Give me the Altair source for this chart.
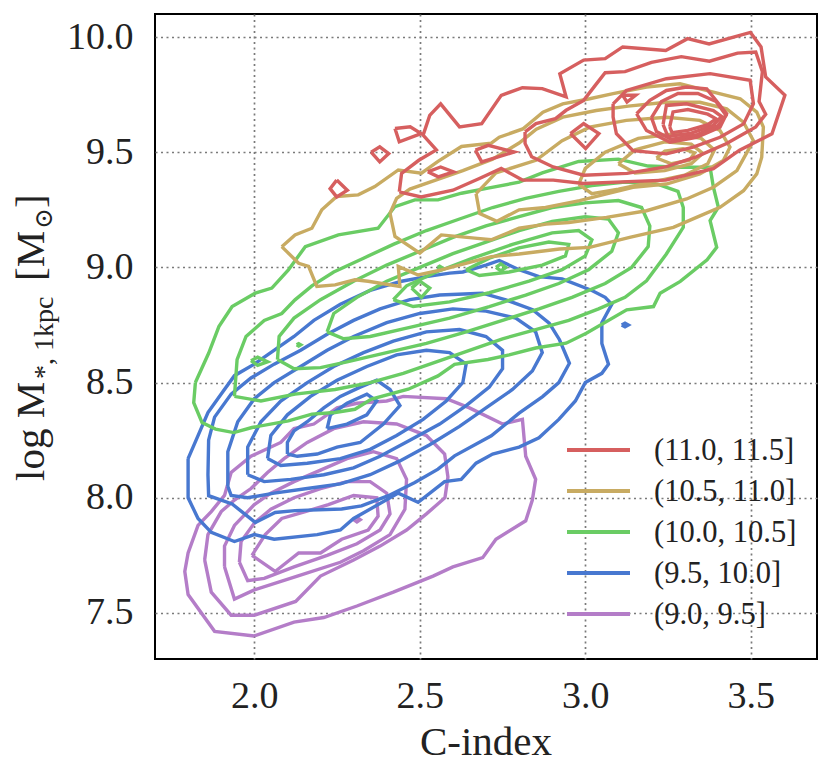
import altair as alt
import pandas as pd

# ---------------- data ----------------
LABELS = ["(11.0, 11.5]", "(10.5, 11.0]", "(10.0, 10.5]", "(9.5, 10.0]", "(9.0, 9.5]"]
COLORS = ["#d65f5f", "#c8ab62", "#6acc64", "#4878d0", "#b47dc8"]
X_TICKS = [2.0, 2.5, 3.0, 3.5]
Y_TICKS = [7.5, 8.0, 8.5, 9.0, 9.5, 10.0]

RED = [
    [(2.438,9.328),(2.445,9.408),(2.497,9.465),(2.55,9.51),(2.51,9.574),(2.53,9.66),(2.563,9.71),(2.62,9.61),
     (2.687,9.624),(2.746,9.747),(2.81,9.78),(2.87,9.776),(2.942,9.74),(2.923,9.84),(2.995,9.90),(3.06,9.906),
     (3.113,9.957),(3.243,9.942),(3.309,9.993),(3.374,9.97),(3.499,10.02),(3.531,9.957),(3.545,9.827),(3.603,9.747),
     (3.564,9.58),(3.466,9.509),(3.387,9.429),(3.243,9.379),(2.995,9.364),(2.903,9.379),(2.81,9.379),(2.746,9.43),
     (2.68,9.386),(2.60,9.335),(2.504,9.306)],
    [(2.818,9.588),(2.851,9.624),(2.91,9.646),(2.942,9.682),(2.995,9.725),(3.03,9.79),(3.06,9.845),(3.12,9.85),
     (3.20,9.89),(3.29,9.915),(3.375,9.895),(3.46,9.93),(3.515,9.935),(3.535,9.85),(3.525,9.72),(3.545,9.665),
     (3.515,9.61),(3.427,9.538),(3.335,9.48),(3.243,9.436),(3.126,9.408),(2.995,9.40),(2.903,9.436),(2.838,9.48),
     (2.818,9.538)],
    [(3.084,9.71),(3.124,9.768),(3.245,9.819),(3.377,9.841),(3.498,9.812),(3.508,9.71),(3.478,9.623),(3.407,9.565),
     (3.326,9.522),(3.245,9.493),(3.144,9.507),(3.094,9.58),(3.084,9.652)],
    [(3.155,9.667),(3.195,9.725),(3.245,9.768),(3.306,9.783),(3.367,9.775),(3.427,9.667),(3.407,9.609),(3.336,9.565),
     (3.256,9.543),(3.185,9.594)],
    [(3.20,9.65),(3.23,9.72),(3.28,9.755),(3.34,9.755),(3.395,9.72),(3.425,9.66),(3.40,9.615),(3.335,9.575),
     (3.26,9.555),(3.215,9.59)],
    [(3.235,9.62),(3.245,9.703),(3.306,9.71),(3.387,9.681),(3.412,9.655),(3.385,9.615),(3.32,9.583),(3.25,9.568)],
    [(3.255,9.61),(3.265,9.675),(3.31,9.685),(3.37,9.665),(3.395,9.645),(3.37,9.62),(3.31,9.595),(3.262,9.585)],
    [(2.249,9.379),(2.281,9.335),(2.249,9.306),(2.229,9.342)],
    [(2.353,9.50),(2.379,9.523),(2.406,9.494),(2.379,9.458)],
    [(2.425,9.603),(2.471,9.61),(2.504,9.581),(2.438,9.545)],
    [(2.524,9.415),(2.563,9.436),(2.602,9.415),(2.556,9.393)],
    [(2.668,9.509),(2.707,9.53),(2.785,9.501),(2.687,9.458)],
    [(2.955,9.581),(2.995,9.624),(3.041,9.581),(3.001,9.516)],
    [(3.113,9.747),(3.152,9.747),(3.126,9.718)],
]

TAN = [
    [(2.083,9.09),(2.123,9.141),(2.174,9.17),(2.204,9.25),(2.249,9.308),(2.314,9.315),(2.364,9.351),(2.435,9.423),
     (2.505,9.409),(2.555,9.46),(2.626,9.525),(2.716,9.539),(2.74,9.565),(2.811,9.601),(2.872,9.674),(2.932,9.71),
     (3.013,9.732),(3.084,9.754),(3.185,9.783),(3.286,9.797),(3.387,9.761),(3.468,9.732),(3.518,9.674),(3.538,9.609),
     (3.533,9.478),(3.518,9.406),(3.478,9.333),(3.407,9.261),(3.336,9.217),(3.266,9.174),(3.134,9.13),(3.013,9.087),
     (2.922,9.08),(2.80,9.058),(2.716,9.047),(2.565,8.989),(2.495,8.967),(2.435,9.004),(2.44,8.917),(2.344,8.94),
     (2.304,8.946),(2.244,8.924),(2.189,8.917),(2.164,9.004),(2.134,9.018)],
    [(2.41,9.235),(2.43,9.30),(2.47,9.34),(2.55,9.38),(2.63,9.42),(2.72,9.47),(2.80,9.54),(2.852,9.60),(2.932,9.652),
     (3.033,9.681),(3.13,9.70),(3.245,9.717),(3.346,9.717),(3.427,9.688),(3.478,9.63),(3.508,9.55),(3.458,9.42),
     (3.387,9.348),(3.306,9.297),(3.185,9.246),(3.064,9.217),(2.95,9.195),(2.882,9.188),(2.80,9.17),(2.716,9.12),
     (2.666,9.127),(2.565,9.141),(2.50,9.062),(2.425,9.134)],
    [(2.67,9.32),(2.73,9.41),(2.851,9.465),(2.93,9.55),(3.013,9.609),(3.124,9.638),(3.245,9.652),(3.346,9.638),
     (3.407,9.594),(3.437,9.522),(3.417,9.464),(3.346,9.406),(3.245,9.362),(3.144,9.348),(3.064,9.319),(2.983,9.29),
     (2.88,9.26),(2.80,9.25),(2.733,9.20),(2.681,9.234)],
    [(2.98,9.36),(3.00,9.43),(3.06,9.50),(3.16,9.56),(3.27,9.58),(3.35,9.56),(3.39,9.51),(3.37,9.45),(3.30,9.40),
     (3.20,9.37),(3.10,9.34),(3.02,9.32)],
    [(3.10,9.45),(3.15,9.51),(3.24,9.545),(3.32,9.535),(3.355,9.495),(3.32,9.45),(3.24,9.42),(3.15,9.41)],
    [(3.215,9.475),(3.24,9.505),(3.295,9.515),(3.33,9.497),(3.315,9.465),(3.26,9.45)],
]

GREEN = [
    [(1.822,8.50),(1.862,8.627),(1.893,8.743),(1.933,8.83),(2.003,8.888),(2.053,8.91),(2.103,8.989),(2.154,9.09),
     (2.254,9.141),(2.374,9.17),(2.425,9.264),(2.485,9.293),(2.555,9.293),(2.626,9.322),(2.706,9.344),(2.80,9.37),
     (2.87,9.41),(2.98,9.46),(3.10,9.47),(3.19,9.44),(3.286,9.435),(3.377,9.435),(3.387,9.348),(3.402,9.261),
     (3.377,9.203),(3.397,9.087),(3.368,9.033),(3.287,8.939),(3.226,8.888),(3.206,8.83),(3.125,8.816),(3.003,8.714),
     (2.942,8.671),(2.85,8.65),(2.77,8.62),(2.706,8.60),(2.605,8.579),(2.555,8.529),(2.465,8.471),(2.354,8.428),
     (2.304,8.384),(2.244,8.37),(2.174,8.363),(2.103,8.334),(1.993,8.305),(1.938,8.283),(1.883,8.298),(1.842,8.327),
     (1.817,8.413)],
    [(1.94,8.44),(1.948,8.60),(1.975,8.70),(2.03,8.77),(2.083,8.80),(2.123,8.859),(2.174,8.92),(2.24,8.98),
     (2.33,9.04),(2.42,9.10),(2.52,9.16),(2.62,9.21),(2.72,9.26),(2.82,9.30),(2.92,9.33),(3.02,9.355),(3.12,9.37),
     (3.22,9.36),(3.28,9.33),(3.296,9.26),(3.296,9.174),(3.245,9.058),(3.185,8.942),(3.12,8.87),(3.04,8.82),
     (2.95,8.77),(2.85,8.73),(2.75,8.69),(2.65,8.64),(2.55,8.59),(2.45,8.54),(2.35,8.50),(2.244,8.47),(2.123,8.45),
     (2.02,8.42)],
    [(2.07,8.60),(2.075,8.70),(2.12,8.78),(2.20,8.86),(2.30,8.94),(2.40,9.01),(2.50,9.07),(2.60,9.13),(2.70,9.18),
     (2.80,9.22),(2.90,9.26),(3.00,9.28),(3.10,9.29),(3.17,9.26),(3.195,9.18),(3.19,9.09),(3.14,9.00),(3.06,8.93),
     (2.96,8.87),(2.86,8.82),(2.75,8.77),(2.64,8.72),(2.52,8.67),(2.40,8.63),(2.28,8.59),(2.20,8.565),(2.12,8.56)],
    [(2.22,8.72),(2.24,8.80),(2.31,8.87),(2.40,8.94),(2.50,9.00),(2.60,9.06),(2.70,9.11),(2.80,9.16),(2.90,9.20),
     (3.00,9.22),(3.07,9.21),(3.10,9.15),(3.08,9.07),(3.01,8.99),(2.92,8.93),(2.82,8.88),(2.71,8.83),(2.59,8.78),
     (2.47,8.74),(2.35,8.70),(2.27,8.69)],
    [(2.42,8.86),(2.46,8.92),(2.55,8.98),(2.66,9.04),(2.78,9.10),(2.90,9.15),(2.98,9.16),(3.02,9.12),(3.00,9.05),
     (2.93,8.99),(2.83,8.94),(2.71,8.89),(2.59,8.85),(2.48,8.83)],
    [(2.64,8.99),(2.71,9.04),(2.80,9.085),(2.89,9.11),(2.95,9.10),(2.94,9.05),(2.87,9.01),(2.77,8.98),(2.68,8.965)],
    [(1.99,8.595),(2.01,8.61),(2.04,8.59),(2.01,8.575)],
    [(2.475,8.91),(2.50,8.94),(2.53,8.91),(2.505,8.87)],
    [(2.73,9.0),(2.745,9.015),(2.76,9.0),(2.745,8.985)],
    [(2.128,8.664),(2.134,8.669),(2.140,8.664),(2.134,8.659)],
    [(2.554,9.0),(2.56,9.005),(2.566,9.0),(2.56,8.995)],
]

BLUE = [
    [(1.80,8.17),(1.80,8.0),(1.83,7.91),(1.87,7.85),(1.94,7.81),(2.0,7.84),(2.06,7.82),(2.19,7.84),(2.26,7.86),
     (2.30,7.91),(2.435,8.02),(2.495,7.98),(2.575,8.07),(2.625,8.08),(2.67,8.15),(2.72,8.19),(2.80,8.22),(2.86,8.26),
     (2.92,8.34),(2.97,8.42),(3.00,8.50),(3.05,8.54),(3.07,8.58),(3.05,8.67),(3.05,8.76),(3.08,8.84),(3.06,8.87),
     (3.02,8.90),(2.93,8.95),(2.86,8.96),(2.80,8.99),(2.74,9.03),(2.70,9.01),(2.63,8.98),(2.59,8.975),(2.52,8.96),
     (2.445,8.94),(2.35,8.90),(2.26,8.84),(2.18,8.77),(2.12,8.70),(2.04,8.62),(2.0,8.58),(1.94,8.53),(1.90,8.45),
     (1.86,8.37),(1.83,8.27)],
    [(1.86,8.10),(1.862,8.25),(1.88,8.35),(1.93,8.45),(1.99,8.52),(2.06,8.58),(2.14,8.64),(2.22,8.71),(2.30,8.77),
     (2.38,8.82),(2.47,8.86),(2.56,8.88),(2.689,8.888),(2.76,8.859),(2.841,8.816),(2.891,8.758),(2.922,8.686),
     (2.952,8.584),(2.92,8.50),(2.871,8.439),(2.80,8.367),(2.716,8.269),(2.605,8.182),(2.555,8.124),(2.485,8.066),
     (2.405,8.009),(2.324,7.965),(2.264,7.951),(2.123,7.944),(2.063,7.936),(2.003,7.893),(1.933,7.973),(1.862,8.009)],
    [(1.92,8.05),(1.92,8.20),(1.95,8.33),(2.00,8.43),(2.06,8.50),(2.14,8.57),(2.22,8.64),(2.30,8.70),(2.40,8.76),
     (2.50,8.80),(2.60,8.82),(2.70,8.81),(2.79,8.78),(2.85,8.72),(2.87,8.63),(2.84,8.55),(2.78,8.47),(2.70,8.39),
     (2.62,8.31),(2.53,8.23),(2.44,8.16),(2.35,8.10),(2.26,8.06),(2.16,8.04),(2.06,8.02),(1.98,8.00),(1.93,8.01)],
    [(1.98,8.10),(1.98,8.22),(2.02,8.33),(2.08,8.42),(2.16,8.50),(2.24,8.57),(2.33,8.63),(2.42,8.68),(2.52,8.72),
     (2.62,8.73),(2.70,8.70),(2.75,8.64),(2.75,8.56),(2.71,8.48),(2.64,8.40),(2.56,8.32),(2.47,8.25),(2.38,8.18),
     (2.30,8.13),(2.21,8.10),(2.11,8.08),(2.03,8.07)],
    [(2.04,8.17),(2.05,8.27),(2.10,8.36),(2.17,8.44),(2.25,8.51),(2.34,8.57),(2.43,8.62),(2.52,8.64),(2.59,8.63),
     (2.64,8.58),(2.63,8.50),(2.58,8.42),(2.51,8.34),(2.43,8.27),(2.35,8.21),(2.26,8.17),(2.16,8.15),(2.08,8.14)],
    [(2.10,8.19),(2.13,8.18),(2.19,8.19),(2.25,8.22),(2.32,8.24),(2.39,8.32),(2.44,8.40),(2.41,8.47),(2.37,8.51),
     (2.32,8.48),(2.26,8.44),(2.21,8.39),(2.16,8.33),(2.12,8.29),(2.10,8.24)],
    [(2.22,8.30),(2.28,8.32),(2.34,8.36),(2.37,8.42),(2.34,8.45),(2.28,8.41),(2.23,8.36)],
    [(3.11,8.75),(3.12,8.758),(3.13,8.75),(3.12,8.742)],
]

PURPLE = [
    [(2.00,7.40),(1.88,7.42),(1.80,7.58),(1.79,7.68),(1.80,7.76),(1.83,7.88),(1.87,7.94),(1.91,8.01),(1.93,8.11),
     (1.99,8.18),(2.08,8.24),(2.12,8.30),(2.18,8.32),(2.25,8.39),(2.31,8.41),(2.40,8.42),(2.45,8.44),(2.58,8.43),
     (2.65,8.39),(2.75,8.32),(2.81,8.34),(2.82,8.18),(2.85,8.08),(2.84,7.99),(2.82,7.90),(2.73,7.82),(2.69,7.74),
     (2.60,7.70),(2.54,7.66),(2.42,7.59),(2.31,7.53),(2.21,7.48),(2.12,7.46)],
    [(1.85,7.73),(1.86,7.84),(1.90,7.94),(1.94,7.99),(1.99,8.04),(2.04,8.11),(2.09,8.17),(2.16,8.24),(2.24,8.30),
     (2.33,8.33),(2.43,8.32),(2.52,8.27),(2.575,8.19),(2.585,8.09),(2.576,8.00),(2.52,7.93),(2.46,7.86),(2.38,7.79),
     (2.30,7.73),(2.20,7.66),(2.125,7.55),(2.00,7.49),(1.93,7.49),(1.87,7.59)],
    [(1.91,7.70),(1.91,7.79),(1.94,7.88),(2.00,7.97),(2.05,8.02),(2.12,8.07),(2.20,8.12),(2.28,8.17),(2.36,8.20),
     (2.43,8.17),(2.46,8.08),(2.455,7.95),(2.41,7.84),(2.33,7.77),(2.26,7.72),(2.13,7.66),(2.00,7.60),(1.94,7.56)],
    [(1.955,7.72),(1.96,7.81),(2.00,7.89),(2.05,7.95),(2.12,8.00),(2.20,8.04),(2.28,8.07),(2.35,8.07),(2.40,8.02),
     (2.41,7.93),(2.38,7.86),(2.31,7.80),(2.22,7.75),(2.12,7.70),(2.03,7.65),(1.98,7.64)],
    [(1.993,7.75),(2.063,7.68),(2.134,7.76),(2.20,7.76),(2.264,7.82),(2.344,7.86),(2.374,7.92),(2.37,8.00),
     (2.30,8.01),(2.224,7.97),(2.154,7.94),(2.083,7.91),(2.033,7.84)],
    [(2.30,7.905),(2.31,7.915),(2.32,7.905),(2.31,7.895)],
]

# draw order: lowest mass first, highest on top
GROUPS = [("(9.0, 9.5]", PURPLE), ("(9.5, 10.0]", BLUE), ("(10.0, 10.5]", GREEN),
          ("(10.5, 11.0]", TAN), ("(11.0, 11.5]", RED)]

FONT = "Liberation Serif, Times New Roman, DejaVu Serif, serif"


def frame(label, contours):
    rows = []
    for c, ring in enumerate(contours):
        pts = list(ring) + [ring[0]]  # close the ring
        for i, (x, y) in enumerate(pts):
            rows.append({"grp": label, "cid": f"{label}-{c}", "i": i, "x": x, "y": y})
    return pd.DataFrame(rows)


xscale = alt.Scale(domain=[1.70, 3.70], nice=False, zero=False)
yscale = alt.Scale(domain=[7.30, 10.10], nice=False, zero=False)
cscale = alt.Scale(domain=LABELS, range=COLORS)

axis_common = dict(title=None, grid=True, ticks=False, domain=False, labelFont=FONT,
                   labelFontSize=38, labelColor="#222", format=".1f", labelFlush=False,
                   gridDash=[2, 3.5], gridColor="#7a7a7a", gridWidth=1.7)

layers = []
for label, contours in GROUPS:
    layers.append(
        alt.Chart(frame(label, contours)).mark_line(strokeWidth=3.4, strokeJoin="miter").encode(
            x=alt.X("x:Q", scale=xscale, axis=alt.Axis(values=X_TICKS, labelPadding=18, **axis_common)),
            y=alt.Y("y:Q", scale=yscale, axis=alt.Axis(values=Y_TICKS, labelPadding=22, **axis_common)),
            color=alt.Color("grp:N", scale=cscale, legend=None),
            detail="cid:N",
            order=alt.Order("i:Q"),
        )
    )

one = pd.DataFrame({"a": [0]})


def txt(s, x, y, size, angle=270, align="left", baseline="alphabetic"):
    return alt.Chart(one).mark_text(text=s, font=FONT, fontSize=size, angle=angle, align=align,
                                    baseline=baseline, color="#222").encode(
        x=alt.value(x), y=alt.value(y))


titles = [
    txt("log M", -111, 467, 41),
    txt("*, 1kpc", -102, 365, 28),
    txt("[M", -111, 267, 41),
    txt("\u2299", -103, 215, 25),
    txt("]", -111, 194, 41),
    txt("C-index", 331, 741, 41, angle=0, align="center"),
]

# legend drawn inside the plot area (bottom right), one row per mass bin
legend_layers = []
for k, (lab, col) in enumerate(zip(LABELS, COLORS)):
    row_y = 436 + 41 * k
    legend_layers.append(
        alt.Chart(one).mark_rule(strokeWidth=4, color=col, strokeCap="butt").encode(
            x=alt.value(412), x2=alt.value(475), y=alt.value(row_y)))
    legend_layers.append(txt(lab, 499, row_y + 1, 30.5, angle=0, align="left", baseline="middle"))

chart = alt.layer(*layers, *legend_layers, *titles).properties(
    width=662, height=645,
    padding={"left": 147, "top": 6, "right": 6, "bottom": 110},
    autosize=alt.AutoSizeParams(type="none"),
).configure_view(stroke="black", strokeWidth=2)

chart.save("out.html", embed_options={"renderer": "svg", "actions": False})
